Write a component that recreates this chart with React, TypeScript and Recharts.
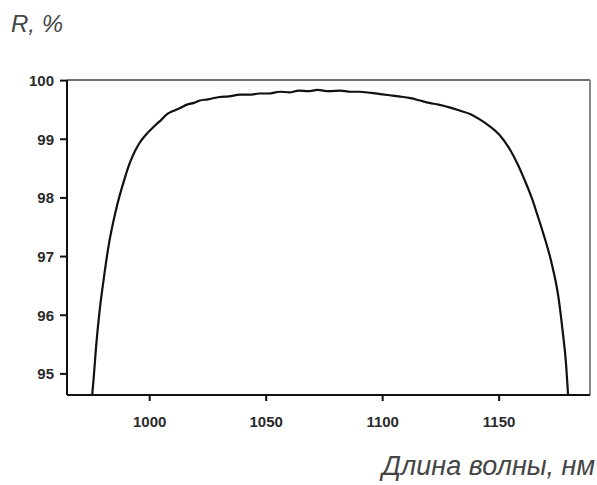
import { LineChart, Line, XAxis, YAxis, ReferenceLine } from 'recharts'

// длина волны, нм
const WAVELENGTH = [
  975.3, 975.9, 977, 978.4, 980.2, 982.3, 985.2, 989.4, 991.5, 993.7, 995.7, 998,
  1001.4, 1003, 1005, 1007.2, 1010, 1012.9, 1016, 1019, 1021.5, 1025, 1030, 1034, 1038.7,
  1043, 1047, 1051, 1056, 1060, 1064, 1068, 1072, 1077, 1082, 1086, 1090, 1095, 1099, 1103,
  1107, 1112, 1116, 1120, 1124, 1129, 1133, 1137.5, 1142, 1146, 1150, 1154.7, 1158, 1161,
  1164, 1166.5, 1168.9, 1172.5, 1175.4, 1177.2, 1178.7, 1179.6,
]
// коэффициент отражения R, %
const REFLECT = [
  94.64, 94.9, 95.47, 96.04, 96.6, 97.17, 97.74, 98.35, 98.6, 98.8, 98.94, 99.06,
  99.2, 99.26, 99.33, 99.42, 99.48, 99.53, 99.59, 99.62, 99.66, 99.68, 99.72, 99.73, 99.76,
  99.76, 99.78, 99.78, 99.81, 99.8, 99.83, 99.82, 99.84, 99.82, 99.83, 99.81, 99.81, 99.79, 99.77, 99.75,
  99.73, 99.7, 99.66, 99.62, 99.59, 99.54, 99.49, 99.43, 99.33, 99.22, 99.08, 98.82, 98.57, 98.3,
  98.0, 97.7, 97.4, 96.89, 96.32, 95.75, 95.18, 94.64,
]
const X_TICKS = [1000, 1050, 1100, 1150]
const Y_TICKS = [95, 96, 97, 98, 99, 100]
const X_DOMAIN = [964.5, 1189]
const Y_DOMAIN = [94.64, 100.01]

const data = WAVELENGTH.map((x, i) => ({ x, r: REFLECT[i] }))

const FONT = '"Liberation Sans", Arial, sans-serif'
const tick = { fill: '#2a2a2a', fontSize: 15, fontWeight: 700, fontFamily: FONT }

export default function App() {
  return (
    <div style={{ position: 'absolute', top: 0, left: 0, width: 597, height: 485, background: '#fff' }}>
      <LineChart width={597} height={485} data={data} margin={{ top: 80, right: 7, left: 7, bottom: 60 }}>
        <XAxis dataKey="x" type="number" domain={X_DOMAIN} ticks={X_TICKS} allowDataOverflow
          tick={tick} tickLine={{ stroke: '#111', strokeWidth: 2 }} tickSize={6} tickMargin={15}
          axisLine={{ stroke: '#111', strokeWidth: 2 }} height={30} />
        <YAxis type="number" domain={Y_DOMAIN} ticks={Y_TICKS} allowDataOverflow
          tick={tick} tickLine={{ stroke: '#111', strokeWidth: 2 }} tickSize={7} tickMargin={6}
          axisLine={{ stroke: '#111', strokeWidth: 2 }} width={60} />
        {/* рамка сверху и справа */}
        <ReferenceLine y={Y_DOMAIN[1]} stroke="#6f6f6f" strokeWidth={2} />
        <ReferenceLine x={X_DOMAIN[1]} stroke="#8a8a8a" strokeWidth={2} />
        <Line dataKey="r" stroke="#111" strokeWidth={2.2} dot={false} isAnimationActive={false} type="monotone" />
      </LineChart>
      <div style={{ position: 'absolute', left: 11, top: 10, fontFamily: FONT, fontStyle: 'italic', fontSize: 24, color: '#444' }}>
        R, %
      </div>
      <div style={{ position: 'absolute', right: 2, top: 451, fontFamily: FONT, fontStyle: 'italic', fontSize: 27, color: '#444' }}>
        Длина волны, нм
      </div>
    </div>
  )
}
